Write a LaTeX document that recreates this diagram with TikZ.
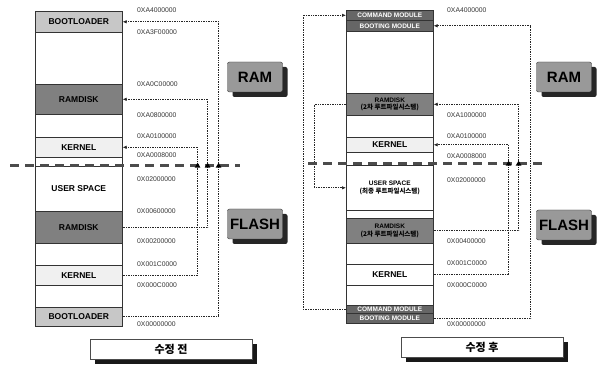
\documentclass[tikz,border=0pt]{standalone}
\usepackage{fontspec}
\setmainfont{Liberation Sans}
\newfontfamily\kofont{Noto Sans CJK KR}
\usetikzlibrary{arrows.meta,shapes.geometric,shadows}
\tikzset{
  column frame/.style={line width=0.6pt,black!80},
  mem block/.style={draw=black!80,line width=0.6pt,minimum width=87pt,inner sep=0pt,anchor=north west,align=center,font=\bfseries\fontsize{8.5}{9}\selectfont},
  small block/.style={mem block,font=\bfseries\fontsize{6.5}{7.5}\selectfont},
  boot fill/.style={fill=black!22},
  disk fill/.style={fill=black!50},
  kern fill/.style={fill=black!6},
  module fill/.style={fill=black!60,text=white},
  addr label/.style={anchor=west,inner sep=0pt,text=black!80,font=\fontsize{6.8}{7}\selectfont},
  link/.style={densely dotted,line width=0.7pt,black!85,-{Latex[length=4pt,width=3.5pt]}},
  up mark/.style={isosceles triangle,shape border rotate=90,isosceles triangle apex angle=60,fill=black,inner sep=0pt,minimum width=5pt,minimum height=5pt},
  split line/.style={line width=3pt,black!70,dash pattern=on 9pt off 6pt},
  badge/.style={draw=black!80,fill=black!40,rounded corners=2pt,minimum width=55pt,minimum height=30pt,inner sep=0pt,font=\bfseries\fontsize{15}{15}\selectfont,general shadow={fill=black!85,shadow xshift=5pt,shadow yshift=-5pt}},
  title box/.style={draw=black!70,fill=white,minimum width=162pt,minimum height=20pt,inner sep=0pt,font=\kofont\bfseries\fontsize{11}{11}\selectfont,general shadow={fill=black!90,shadow xshift=5pt,shadow yshift=-5pt}},
}

\begin{document}
\begin{tikzpicture}[x=1pt,y=-1pt]
\useasboundingbox (0,0) rectangle (600,366);
% before
\draw[column frame] (35,11) rectangle (122,326);
\node[mem block,boot fill,minimum height=21pt] (lramboot) at (35,11) {BOOTLOADER};
\node[mem block,disk fill,minimum height=30pt] (lramrd) at (35,84) {RAMDISK};
\node[mem block,kern fill,minimum height=20pt] (lramkern) at (35,137) {KERNEL};
\node[mem block,minimum height=45pt] (luser) at (35,166) {USER SPACE};
\node[mem block,disk fill,minimum height=32pt] (lflashrd) at (35,211) {RAMDISK};
\node[mem block,kern fill,minimum height=20pt] (lflashkern) at (35,265) {KERNEL};
\node[mem block,boot fill,minimum height=19pt] (lflashboot) at (35,307) {BOOTLOADER};
\foreach \y/\addr [count=\i] in {10/0XA4000000, 32/0XA3F00000, 84/0XA0C00000, 115/0XA0800000, 136/0XA0100000, 155/0XA0008000,
  179/0X02000000, 211/0X00600000, 241/0X00200000, 264/0X001C0000, 285/0X000C0000, 324/0X00000000} {
  \node[addr label] (laddr\i) at (137,\y) {\addr};
}
\coordinate (ldash) at (10,166);
\draw[link] (lflashboot.east) -- ++(96,0) coordinate (lv1) |- (lramboot.east);
\draw[link] (lflashrd.east) -- ++(85,0) coordinate (lv2) |- (lramrd.east);
\draw[link] (lflashkern.east) -- ++(75,0) coordinate (lv3) |- (lramkern.east);
\draw[split line] (ldash) -- (240,166);
\foreach \v in {lv1,lv2,lv3} {
  \node[up mark] at (\v |- ldash) {};
}
\node[badge] (lram) at (255,77) {RAM};
\node[badge] (lflash) at (255,224) {FLASH};
\node[title box] (ltitle) at (171,349) {수정 전};
% after
\draw[column frame] (346,10) rectangle (433,323);
\node[small block,module fill,minimum height=10pt] (rramcmd) at (346,10) {COMMAND MODULE};
\node[small block,module fill,minimum height=11pt] (rramboot) at (346,20) {BOOTING MODULE};
\node[small block,disk fill,minimum height=22pt] (rramrd) at (346,93) {RAMDISK\\{\kofont (2차 루트파일시스템)}};
\node[mem block,kern fill,minimum height=15pt] (rramkern) at (346,137) {KERNEL};
\node[small block,minimum height=45pt] (ruser) at (346,165) {USER SPACE\\{\kofont (최종 루트파일시스템)}};
\node[small block,disk fill,minimum height=25pt] (rflashrd) at (346,218) {RAMDISK\\{\kofont (2차 루트파일시스템)}};
\node[mem block,minimum height=21pt] (rflashkern) at (346,264) {KERNEL};
\node[small block,module fill,minimum height=8pt] (rflashcmd) at (346,305) {COMMAND MODULE};
\node[small block,module fill,minimum height=10pt] (rflashboot) at (346,313) {BOOTING MODULE};
\foreach \y/\addr [count=\i] in {10/0XA4000000, 115/0XA1000000, 136/0XA0100000, 156/0XA0008000,
  180/0X02000000, 241/0X00400000, 263/0X001C0000, 285/0X000C0000, 324/0X00000000} {
  \node[addr label] (raddr\i) at (447,\y) {\addr};
}
\coordinate (rdash) at (308,164);
\draw[link] (rflashcmd.west) -- ++(-43,0) |- (rramcmd.west);
\draw[link] (rramrd.west) -- ++(-32,0) |- (ruser.west);
\draw[link] (rflashboot.east) -- ++(97,0) coordinate (rv1) |- (rramboot.east);
\draw[link] (rflashrd.east) -- ++(85,0) coordinate (rv2) |- (rramrd.east);
\draw[link] (rflashkern.east) -- ++(75,0) coordinate (rv3) |- (rramkern.east);
\draw[split line] (rdash) -- (542,164);
\foreach \v in {rv2,rv3} {
  \node[up mark] at (\v |- rdash) {};
}
\node[badge] (rram) at (564,77) {RAM};
\node[badge] (rflash) at (564,225) {FLASH};
\node[title box] (rtitle) at (482,347) {수정 후};
\end{tikzpicture}
\end{document}
